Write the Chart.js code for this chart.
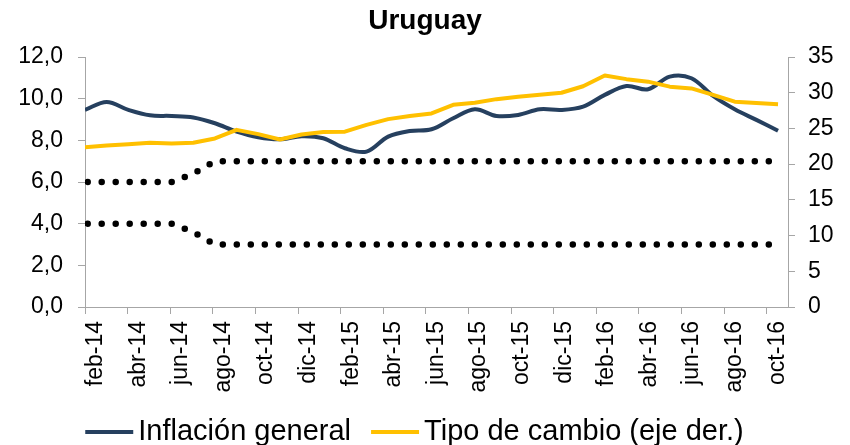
<!DOCTYPE html>
<html>
<head>
<meta charset="utf-8">
<script src="https://cdn.jsdelivr.net/npm/chart.js@4/dist/chart.umd.min.js"></script>
<style>
  html, body { margin: 0; padding: 0; background: #ffffff; }
  #wrap { width: 850px; height: 445px; }
</style>
</head>
<body>
<div id="wrap"><canvas id="c" width="850" height="445"></canvas></div>
<script>
// ---- Data ----
const months = ['feb-14','mar-14','abr-14','may-14','jun-14','jul-14','ago-14','sep-14','oct-14','nov-14','dic-14','ene-15',
                'feb-15','mar-15','abr-15','may-15','jun-15','jul-15','ago-15','sep-15','oct-15','nov-15','dic-15','ene-16',
                'feb-16','mar-16','abr-16','may-16','jun-16','jul-16','ago-16','sep-16','oct-16'];
const inflacion = [9.46, 9.84, 9.46, 9.20, 9.17, 9.10, 8.82, 8.42, 8.15, 8.05, 8.20, 8.10,
                   7.62, 7.46, 8.18, 8.45, 8.53, 9.06, 9.49, 9.17, 9.22, 9.49, 9.46, 9.62,
                   10.18, 10.61, 10.45, 11.06, 10.98, 10.13, 9.49, 8.98, 8.46];
const tipoCambio = [22.36, 22.60, 22.80, 23.00, 22.90, 23.00, 23.60, 24.80, 24.20, 23.45, 24.15, 24.50,
                    24.55, 25.50, 26.30, 26.75, 27.10, 28.30, 28.60, 29.10, 29.45, 29.70, 30.00, 30.90,
                    32.40, 31.90, 31.55, 30.85, 30.60, 29.70, 28.75, 28.55, 28.40];
const rangoSup = [6, 6, 6, 6, 6, 6.4, 7, 7, 7, 7, 7, 7,
                  7, 7, 7, 7, 7, 7, 7, 7, 7, 7, 7, 7,
                  7, 7, 7, 7, 7, 7, 7, 7, 7];
const rangoInf = [4, 4, 4, 4, 4, 3.6, 3, 3, 3, 3, 3, 3,
                  3, 3, 3, 3, 3, 3, 3, 3, 3, 3, 3, 3,
                  3, 3, 3, 3, 3, 3, 3, 3, 3];
const leftTicks = { min: 0, max: 12, step: 2 };
const rightTicks = { min: 0, max: 35, step: 5 };
const legendLabels = ['Inflación general', 'Tipo de cambio (eje der.)'];

const BLUE = '#26405F';
const YELLOW = '#FFC000';
const AXIS = '#A6A6A6';
const FONT = '"Liberation Sans", Arial, sans-serif';

const pts = arr => arr.map((v, i) => ({ x: i, y: v }));

const dotted = {
  borderColor: '#000000', borderWidth: 6.5, borderDash: [0, 14], borderDashOffset: 11.3,
  borderCapStyle: 'round', pointRadius: 0, tension: 0, fill: false, yAxisID: 'y', xAxisID: 'x'
};

const bg = {
  id: 'bg',
  beforeDraw(chart) {
    const c = chart.ctx; c.save(); c.fillStyle = '#ffffff';
    c.fillRect(0, 0, chart.width, chart.height); c.restore();
  }
};

const customLegend = {
  id: 'customLegend',
  afterDraw(chart) {
    const c = chart.ctx;
    const items = legendLabels.map(l => chart.data.datasets.find(d => d.label === l));
    c.save();
    c.font = '29px ' + FONT;
    c.textBaseline = 'alphabetic';
    c.fillStyle = '#000000';
    const lineLen = 48, gapLT = 5, gapItems = 20;
    const widths = items.map(d => c.measureText(d.label).width);
    let total = 0;
    widths.forEach((w, i) => { total += lineLen + gapLT + w + (i ? gapItems : 0); });
    let x = 414.5 - total / 2;
    const yLine = 432, yText = 440;
    items.forEach((d, i) => {
      c.strokeStyle = d.borderColor; c.lineWidth = 4; c.lineCap = 'butt';
      c.beginPath(); c.moveTo(x, yLine); c.lineTo(x + lineLen, yLine); c.stroke();
      c.fillText(d.label, x + lineLen + gapLT, yText);
      x += lineLen + gapLT + widths[i] + gapItems;
    });
    c.restore();
  }
};

new Chart(document.getElementById('c'), {
  type: 'line',
  data: {
    datasets: [
      { label: 'Tipo de cambio (eje der.)', data: pts(tipoCambio), borderColor: YELLOW, borderWidth: 4,
        pointRadius: 0, tension: 0, yAxisID: 'y2', xAxisID: 'x', order: 0,
        borderJoinStyle: 'round' },
      { label: 'Inflación general', data: pts(inflacion), borderColor: BLUE, borderWidth: 4,
        pointRadius: 0, tension: 0.35, yAxisID: 'y', xAxisID: 'x', order: 1 },
      Object.assign({ label: 'Rango superior', data: pts(rangoSup), order: 2 }, dotted),
      Object.assign({ label: 'Rango inferior', data: pts(rangoInf), order: 3 }, dotted)
    ]
  },
  options: {
    responsive: false,
    animation: false,
    devicePixelRatio: 1,
    layout: { padding: { top: 0, left: 0, right: 0, bottom: 40 } },
    plugins: {
      legend: { display: false },
      tooltip: { enabled: false },
      title: {
        display: true, text: 'Uruguay', color: '#000000',
        font: { family: FONT, size: 28, weight: 'bold' },
        padding: { top: 4, bottom: 19.4 }
      }
    },
    scales: {
      x: { type: 'linear', display: false, min: 0, max: 32.46 },
      xl: {
        type: 'category', labels: months, offset: true, position: 'bottom',
        grid: {
          display: true, offset: true, drawOnChartArea: false, drawTicks: true, tickLength: 7,
          color: AXIS,
          tickColor: ctx => (ctx.index % 2 === 0 ? AXIS : 'rgba(0,0,0,0)')
        },
        border: { display: true, color: AXIS, width: 1 },
        ticks: {
          autoSkip: false, minRotation: 90, maxRotation: 90, padding: 7, color: '#000000',
          font: { family: FONT, size: 23 },
          callback: (v, i) => (i % 2 === 0 ? months[i] : '')
        },
        afterFit: s => { s.height = 98; }
      },
      y: {
        position: 'left', min: leftTicks.min, max: leftTicks.max,
        ticks: { stepSize: leftTicks.step, padding: 15, color: '#000000', font: { family: FONT, size: 23 },
                 callback: v => v.toFixed(1).replace('.', ',') },
        grid: { drawOnChartArea: false, drawTicks: true, tickLength: 7, color: AXIS },
        border: { display: true, color: AXIS, width: 1 },
        afterFit: s => { s.width = 85; }
      },
      y2: {
        position: 'right', min: rightTicks.min, max: rightTicks.max,
        ticks: { stepSize: rightTicks.step, padding: 13, color: '#000000', font: { family: FONT, size: 23 } },
        grid: { drawOnChartArea: false, drawTicks: true, tickLength: 7, color: AXIS },
        border: { display: true, color: AXIS, width: 1 },
        afterFit: s => { s.width = 62; }
      }
    }
  },
  plugins: [bg, customLegend]
});
</script>
</body>
</html>
